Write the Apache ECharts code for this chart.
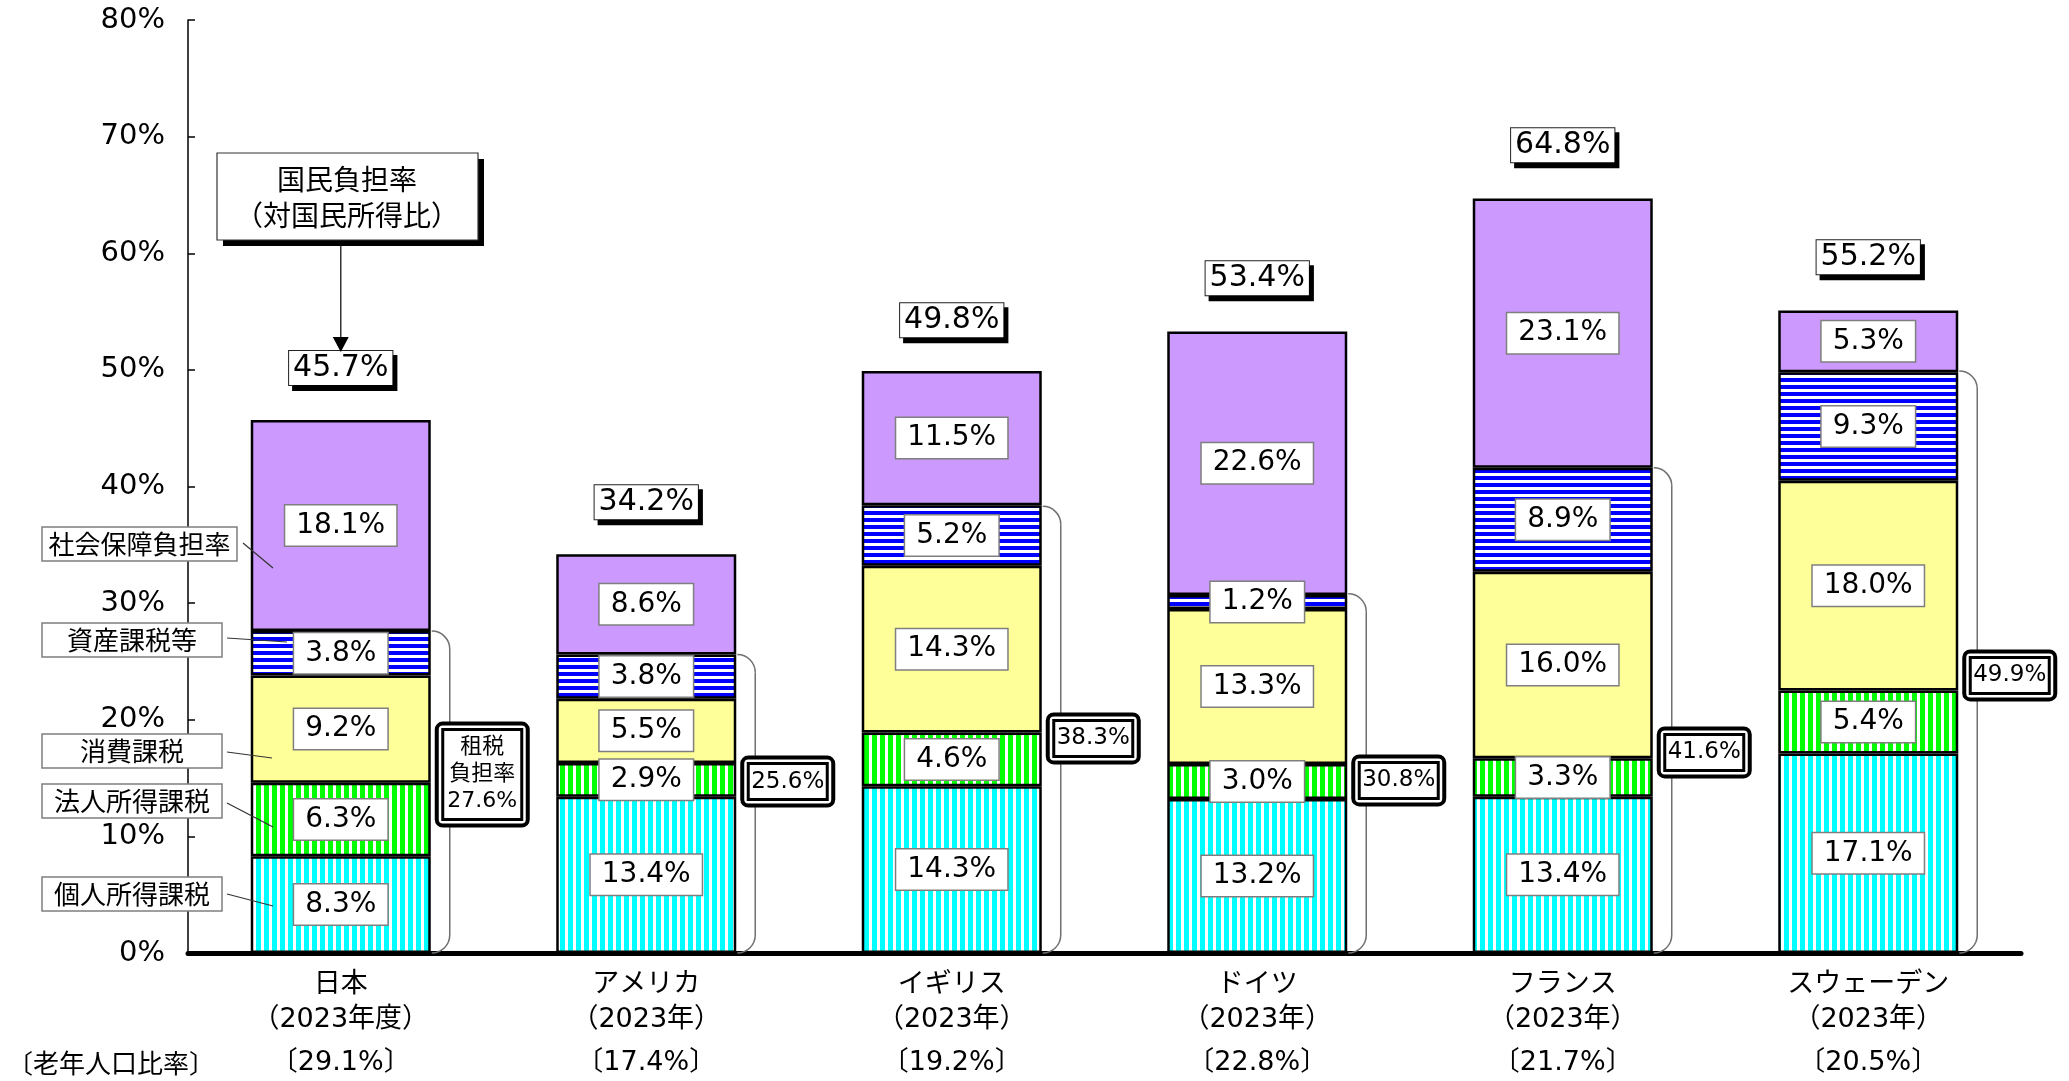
<!DOCTYPE html>
<html lang="ja">
<head>
<meta charset="UTF-8">
<title>国民負担率の国際比較</title>
<script src="https://cdn.jsdelivr.net/npm/echarts@6/dist/echarts.min.js"></script>
<style>
  html, body { margin: 0; padding: 0; background: #fff; }
  #main { width: 2069px; height: 1081px; }
</style>
</head>
<body>
<div id="main"></div>
<script>
// データ（対国民所得比, %）
var countries = ['日本', 'アメリカ', 'イギリス', 'ドイツ', 'フランス', 'スウェーデン'];
var periods = ['（2023年度）', '（2023年）', '（2023年）', '（2023年）', '（2023年）', '（2023年）'];
var elderlyRatio = ['29.1%', '17.4%', '19.2%', '22.8%', '21.7%', '20.5%'];

var personalIncomeTax = [8.3, 13.4, 14.3, 13.2, 13.4, 17.1];
var corporateIncomeTax = [6.3, 2.9, 4.6, 3.0, 3.3, 5.4];
var consumptionTax = [9.2, 5.5, 14.3, 13.3, 16.0, 18.0];
var assetTax = [3.8, 3.8, 5.2, 1.2, 8.9, 9.3];
var socialSecurity = [18.1, 8.6, 11.5, 22.6, 23.1, 5.3];

var totalBurden = [45.7, 34.2, 49.8, 53.4, 64.8, 55.2];   // 国民負担率
var taxBurden = [27.6, 25.6, 38.3, 30.8, 41.6, 49.9];     // 租税負担率

var yTickLabels = ['0%', '10%', '20%', '30%', '40%', '50%', '60%', '70%', '80%'];

// 租税負担率ボックスの高さ位置（軸の値）
var taxBoxLevel = [15.3, 14.7, 18.4, 14.8, 17.2, 23.8];

var NUM = 'DejaVu Sans';
var FONT = "DejaVu Sans, Noto Sans CJK JP, sans-serif";
var JP = "Noto Sans CJK JP, sans-serif";

// ストライプ柄
function stripe(w, h, color, rect) {
    var c = document.createElement('canvas');
    c.width = w;
    c.height = h;
    var ctx = c.getContext('2d');
    ctx.fillStyle = '#fff';
    ctx.fillRect(0, 0, w, h);
    ctx.fillStyle = color;
    ctx.fillRect(rect[0], rect[1], rect[2], rect[3]);
    return { image: c, repeat: 'repeat' };
}
var cyanFill = stripe(8, 8, '#00ffff', [0, 0, 5, 8]);
var greenFill = stripe(8, 8, '#00ff00', [0, 0, 5, 8]);
var blueFill = stripe(8, 7, '#0000ff', [0, 0, 8, 4]);

function pct(p) { return p.value.toFixed(1) + '%'; }

function seg(name, data, color) {
    return {
        name: name,
        type: 'bar',
        stack: 'burden',
        data: data,
        barWidth: 180,
        barGap: '-100%',
        itemStyle: { color: color, borderColor: '#000', borderWidth: 2.5 },
        label: {
            show: true,
            position: 'inside',
            color: '#000',
            fontSize: 28,
            fontFamily: NUM,
            lineHeight: 31,
            backgroundColor: '#fff',
            borderColor: '#7f7f7f',
            borderWidth: 1.5,
            padding: [5, 11, 4, 11],
            formatter: pct
        }
    };
}

var chart = echarts.init(document.getElementById('main'));

var option = {
    animation: false,
    grid: { left: 188, right: 48, top: 20, bottom: 128, containLabel: false },
    xAxis: {
        type: 'category',
        data: countries,
        axisLine: { lineStyle: { color: '#000', width: 5 } },
        axisTick: { show: false },
        axisLabel: {
            interval: 0,
            margin: 14,
            color: '#000',
            formatter: function (v, i) {
                return '{a|' + v + '}\n{a|' + periods[i] + '}\n{b|〔' + elderlyRatio[i] + '〕}';
            },
            rich: {
                a: { fontSize: 27, lineHeight: 35, fontFamily: FONT, color: '#000' },
                b: { fontSize: 27, lineHeight: 51, fontFamily: FONT, color: '#000' }
            }
        }
    },
    yAxis: {
        type: 'value',
        min: 0,
        max: 80,
        interval: 10,
        axisLine: { show: true, lineStyle: { color: '#000', width: 1.5 } },
        axisTick: { show: true, inside: true, length: 7, lineStyle: { color: '#000', width: 1.5 } },
        splitLine: { show: false },
        axisLabel: {
            margin: 23,
            color: '#000',
            fontSize: 29,
            fontFamily: NUM,
            formatter: function (v) { return yTickLabels[Math.round(v / 10)]; }
        }
    },
    series: [
        seg('個人所得課税', personalIncomeTax, cyanFill),
        seg('法人所得課税', corporateIncomeTax, greenFill),
        seg('消費課税', consumptionTax, '#ffff99'),
        seg('資産課税等', assetTax, blueFill),
        seg('社会保障負担率', socialSecurity, '#cc99ff'),
        {
            name: '国民負担率',
            type: 'bar',
            data: totalBurden,
            barWidth: 180,
            barGap: '-100%',
            silent: true,
            z: 1,
            itemStyle: { color: 'rgba(0,0,0,0)' },
            label: {
                show: true,
                position: 'top',
                distance: 35,
                color: '#000',
                fontSize: 30,
                fontFamily: NUM,
                lineHeight: 32,
                backgroundColor: '#fff',
                borderColor: '#222',
                borderWidth: 1,
                padding: [1, 4, 1, 4],
                shadowColor: '#000',
                shadowBlur: 0,
                shadowOffsetX: 4,
                shadowOffsetY: 5,
                formatter: pct
            }
        }
    ]
};
chart.setOption(option);

// 注記（括弧・租税負担率・凡例ラベル）
var g = [];
var yBase = chart.convertToPixel({ yAxisIndex: 0 }, 0);

countries.forEach(function (c, i) {
    var cx = chart.convertToPixel({ xAxisIndex: 0 }, i);
    var right = cx + 91;
    var yTop = chart.convertToPixel({ yAxisIndex: 0 }, taxBurden[i]);
    var r = 18;
    var ln = { stroke: '#707070', lineWidth: 1.5, fill: null };
    g.push({ type: 'arc', z: 50, shape: { cx: right, cy: yTop + r, r: r, startAngle: -Math.PI / 2, endAngle: 0 }, style: ln });
    g.push({ type: 'line', z: 50, shape: { x1: right + r, y1: yTop + r, x2: right + r, y2: yBase - r }, style: ln });
    g.push({ type: 'arc', z: 50, shape: { cx: right, cy: yBase - r, r: r, startAngle: 0, endAngle: Math.PI / 2 }, style: ln });

    var yc = chart.convertToPixel({ yAxisIndex: 0 }, taxBoxLevel[i]);
    var first = i === 0;
    var w = 91, h = first ? 102 : 48;
    var bx = right + 5, by = yc - h / 2;
    g.push({ type: 'rect', z: 60, shape: { x: bx, y: by, width: w, height: h, r: 6 }, style: { fill: '#fff', stroke: '#000', lineWidth: 4 } });
    g.push({ type: 'rect', z: 60, shape: { x: bx + 6, y: by + 6, width: w - 12, height: h - 12 }, style: { fill: '#fff', stroke: '#000', lineWidth: 3 } });
    g.push({
        type: 'text', z: 61, x: bx + w / 2, y: yc,
        style: {
            text: (first ? '租税\n負担率\n' : '') + taxBurden[i].toFixed(1) + '%',
            fill: '#000', fontSize: first ? 22 : 23, fontFamily: FONT, lineHeight: 27,
            align: 'center', verticalAlign: 'middle', textAlign: 'center', textVerticalAlign: 'middle'
        }
    });
});

// 国民負担率（対国民所得比）の吹き出し
var jx = chart.convertToPixel({ xAxisIndex: 0 }, 0);
g.push({ type: 'rect', z: 60, shape: { x: 223, y: 159, width: 261, height: 87 }, style: { fill: '#000' } });
g.push({ type: 'rect', z: 61, shape: { x: 217, y: 153, width: 261, height: 87 }, style: { fill: '#fff', stroke: '#333', lineWidth: 1.2 } });
g.push({
    type: 'text', z: 62, x: 347, y: 197,
    style: {
        text: '国民負担率\n（対国民所得比）', fill: '#000', fontSize: 28, fontFamily: JP, lineHeight: 36,
        align: 'center', verticalAlign: 'middle', textAlign: 'center', textVerticalAlign: 'middle'
    }
});
g.push({ type: 'line', z: 60, shape: { x1: jx, y1: 246, x2: jx, y2: 340 }, style: { stroke: '#333', lineWidth: 1.5 } });
g.push({ type: 'polygon', z: 60, shape: { points: [[jx - 8, 337], [jx + 8, 337], [jx, 352]] }, style: { fill: '#000' } });

// 左側の項目ラベル
var callouts = [
    { text: '社会保障負担率', box: [42, 527, 195, 34], line: [243, 543, 273, 568] },
    { text: '資産課税等', box: [42, 623, 180, 34], line: [227, 638, 287, 642] },
    { text: '消費課税', box: [42, 734, 180, 34], line: [227, 752, 272, 758] },
    { text: '法人所得課税', box: [42, 784, 180, 34], line: [227, 803, 273, 827] },
    { text: '個人所得課税', box: [42, 877, 180, 34], line: [227, 894, 273, 906] }
];
callouts.forEach(function (c) {
    var b = c.box;
    g.push({ type: 'rect', z: 60, shape: { x: b[0], y: b[1], width: b[2], height: b[3] }, style: { fill: '#fff', stroke: '#7f7f7f', lineWidth: 1.5 } });
    g.push({
        type: 'text', z: 61, x: b[0] + b[2] / 2, y: b[1] + b[3] / 2,
        style: {
            text: c.text, fill: '#000', fontSize: 26, fontFamily: JP,
            align: 'center', verticalAlign: 'middle', textAlign: 'center', textVerticalAlign: 'middle'
        }
    });
    g.push({ type: 'line', z: 60, shape: { x1: c.line[0], y1: c.line[1], x2: c.line[2], y2: c.line[3] }, style: { stroke: '#333', lineWidth: 1.2 } });
});

g.push({
    type: 'text', z: 61, x: 7, y: 1063,
    style: {
        text: '〔老年人口比率〕', fill: '#000', fontSize: 26, fontFamily: JP,
        align: 'left', verticalAlign: 'middle', textAlign: 'left', textVerticalAlign: 'middle'
    }
});

chart.setOption({ graphic: g });
</script>
</body>
</html>
